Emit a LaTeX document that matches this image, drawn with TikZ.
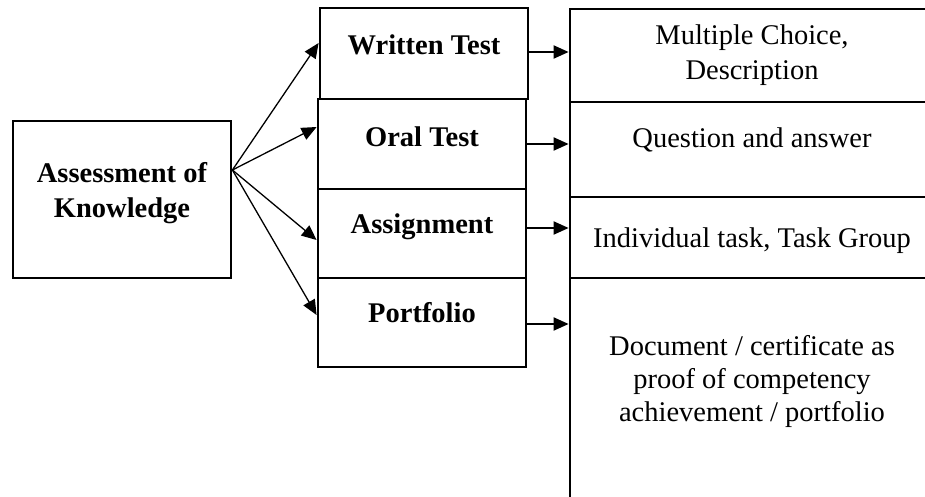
\documentclass[tikz,border=0pt]{standalone}
\usepackage{fontspec}
\setmainfont{Liberation Serif}
\usetikzlibrary{arrows.meta}
\begin{document}
\begin{tikzpicture}[x=1pt,y=-1pt,
  cell/.style={draw, line width=2.8pt, inner sep=0pt, rectangle},
  txt/.style={inner sep=0pt, align=center, anchor=base, font=\fontsize{28.5}{35}\selectfont},
  btxt/.style={txt, font=\fontsize{28.5}{35}\selectfont\bfseries},
  diag/.style={line width=1.3pt, -{Triangle[length=15pt,width=13pt]}},
  harr/.style={line width=2pt, -{Triangle[length=15pt,width=13pt]}}]
\useasboundingbox (0,0) rectangle (925,497);
\clip (0,0) rectangle (925,497);

% left box
\node[cell, minimum width=218pt, minimum height=157pt] (ak) at (122,199.5) {};
\node[btxt] (akt) at (122,217) {Assessment of\\Knowledge};

% middle column
\node[cell, minimum width=208pt, minimum height=91pt] (wt) at (424,53.5) {};
\node[cell, minimum width=208pt, minimum height=90pt] (ot) at (422,144) {};
\node[cell, minimum width=208pt, minimum height=89pt] (as) at (422,233.5) {};
\node[cell, minimum width=208pt, minimum height=89pt] (pf) at (422,322.5) {};
\node[btxt] (wtt) at (424,55) {Written Test};
\node[btxt] (ott) at (422,147) {Oral Test};
\node[btxt] (ast) at (422,233) {Assignment};
\node[btxt] (pft) at (422,322) {Portfolio};

% right column
\node[cell, minimum width=364pt, minimum height=93pt] (mc) at (752,55.5) {};
\node[cell, minimum width=364pt, minimum height=95pt] (qa) at (752,149.5) {};
\node[cell, minimum width=364pt, minimum height=81pt] (it) at (752,237.5) {};
\node[cell, minimum width=364pt, minimum height=262pt] (dc) at (752,409) {};
\node[txt] (mct) at (752,80) {Multiple Choice,\\Description};
\node[txt] (qat) at (752,148) {Question and answer};
\node[txt] (itt) at (752,247) {Individual task, Task Group};
\node[txt, font=\fontsize{28.5}{33}\selectfont] (dct) at (752,421) {Document / certificate as\\proof of competency\\achievement / portfolio};

% fan of arrows from the left box
\path ([yshift=29.5pt]ak.east) coordinate (ako);
\draw[diag] (ako) -- ([yshift=10.5pt]wt.west);
\draw[diag] (ako) -- ([yshift=17pt]ot.west);
\draw[diag] (ako) -- ([yshift=-6.5pt]as.west);
\draw[diag] (ako) -- ([yshift=7.5pt]pf.west);

% horizontal arrows to the right column
\path ([yshift=1.5pt]wt.east) coordinate (wto);
\path (ot.east) coordinate (oto);
\path ([yshift=5.5pt]as.east) coordinate (aso);
\path ([yshift=-1.5pt]pf.east) coordinate (pfo);
\draw[harr] (wto) -- (wto -| mc.west);
\draw[harr] (oto) -- (oto -| qa.west);
\draw[harr] (aso) -- (aso -| it.west);
\draw[harr] (pfo) -- (pfo -| dc.west);
\end{tikzpicture}
\end{document}
